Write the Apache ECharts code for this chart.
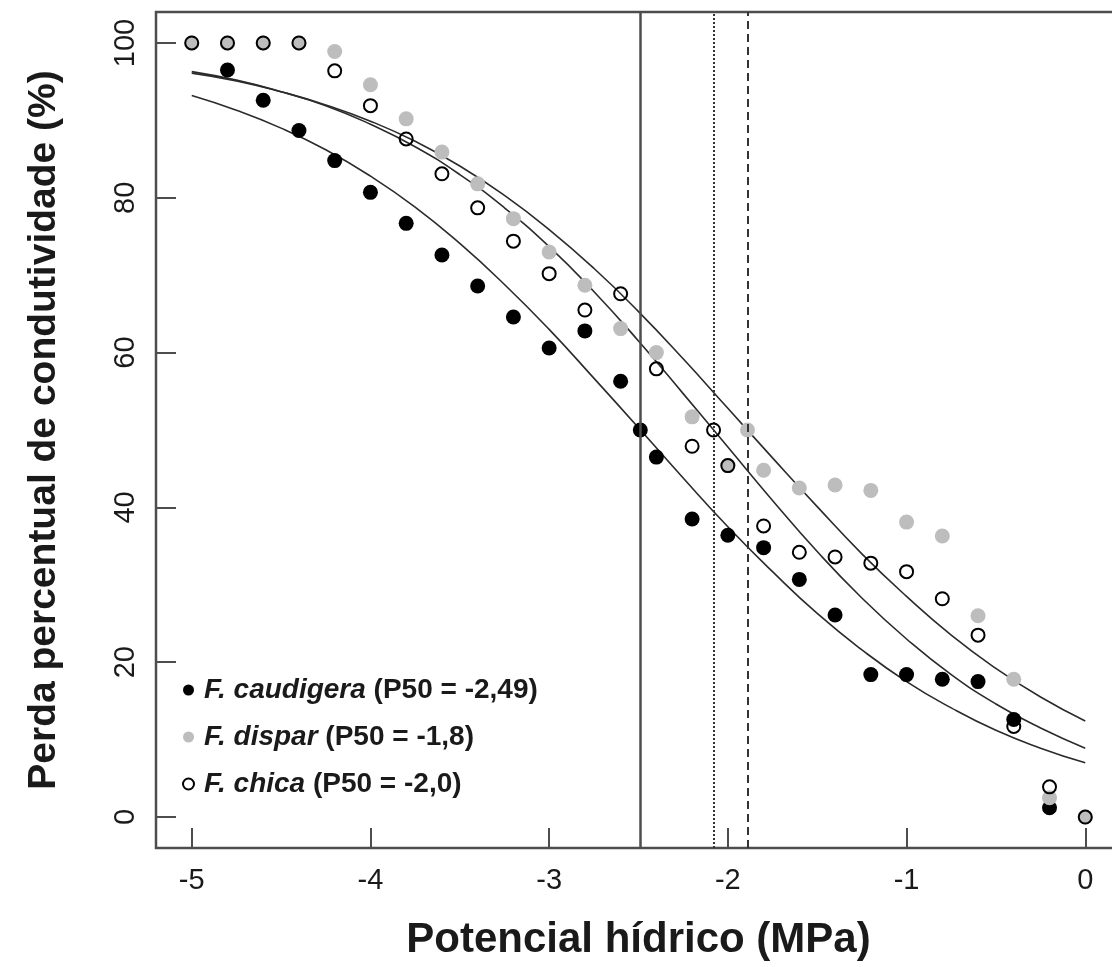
<!DOCTYPE html>
<html>
<head>
<meta charset="utf-8">
<script src="https://cdn.jsdelivr.net/npm/echarts@6/dist/echarts.min.js"></script>
<style>
  html, body { margin: 0; padding: 0; background: #fff; }
  #chart { width: 1112px; height: 967px; }
</style>
</head>
<body>
<div id="chart"></div>
<script>
// ---- Data ----
const speciesNames = ['F. caudigera', 'F. dispar', 'F. chica'];
const p50Labels = ['-2,49', '-1,8', '-2,0'];

const xCaudigera = [-4.8, -4.6, -4.4, -4.2, -4.0, -3.8, -3.6, -3.4, -3.2, -3.0, -2.8, -2.6, -2.49, -2.4, -2.2, -2.0, -1.8, -1.6, -1.4, -1.2, -1.0, -0.8, -0.6, -0.4, -0.2];
const yCaudigera = [96.5, 92.6, 88.7, 84.8, 80.7, 76.7, 72.6, 68.6, 64.6, 60.6, 62.8, 56.3, 50.0, 46.5, 38.5, 36.4, 34.8, 30.7, 26.1, 18.4, 18.4, 17.8, 17.5, 12.6, 1.2];

const xDispar = [-5.0, -4.8, -4.6, -4.4, -4.2, -4.0, -3.8, -3.6, -3.4, -3.2, -3.0, -2.8, -2.6, -2.4, -2.2, -2.0, -1.89, -1.8, -1.6, -1.4, -1.2, -1.0, -0.8, -0.6, -0.4, -0.2, 0.0];
const yDispar = [100, 100, 100, 100, 98.9, 94.6, 90.2, 85.9, 81.8, 77.3, 73.0, 68.7, 63.1, 60.0, 51.7, 45.4, 50.0, 44.8, 42.5, 42.9, 42.2, 38.1, 36.3, 26.0, 17.8, 2.5, 0.0];

const xChica = [-5.0, -4.8, -4.6, -4.4, -4.2, -4.0, -3.8, -3.6, -3.4, -3.2, -3.0, -2.8, -2.6, -2.4, -2.2, -2.08, -2.0, -1.8, -1.6, -1.4, -1.2, -1.0, -0.8, -0.6, -0.4, -0.2, 0.0];
const yChica = [100, 100, 100, 100, 96.4, 91.9, 87.6, 83.1, 78.7, 74.4, 70.2, 65.5, 67.6, 57.9, 47.9, 50.0, 45.4, 37.6, 34.2, 33.6, 32.8, 31.7, 28.2, 23.5, 11.7, 3.9, 0.0];

// fitted curves, values
const curveX = [-5.0, -4.75, -4.5, -4.25, -4.0, -3.75, -3.5, -3.25, -3.0, -2.75, -2.5, -2.25, -2.0, -1.75, -1.5, -1.25, -1.0, -0.75, -0.5, -0.25, 0.0];
const curveCaudigera = [93.2, 91.3, 89.0, 86.2, 82.8, 78.8, 74.1, 68.8, 63.0, 56.7, 50.3, 43.8, 37.5, 31.7, 26.3, 21.6, 17.5, 14.1, 11.2, 8.9, 7.0];
const curveDispar = [96.1, 95.1, 93.7, 92.0, 89.9, 87.3, 84.1, 80.3, 75.9, 70.9, 65.3, 59.2, 52.8, 46.4, 40.1, 34.0, 28.5, 23.5, 19.2, 15.5, 12.4];
const curveChica = [96.3, 95.2, 93.7, 91.9, 89.5, 86.6, 83.0, 78.7, 73.7, 67.9, 61.5, 54.7, 47.8, 40.9, 34.3, 28.3, 23.0, 18.4, 14.6, 11.5, 8.9];

const p50Lines = [-2.49, -2.08, -1.89];
const xTicks = [-5, -4, -3, -2, -1, 0];
const yTicks = [0, 20, 40, 60, 80, 100];

// ---- Build ----
const zip = (xs, ys) => xs.map((x, i) => [x, ys[i]]);
const FONT = "'Liberation Sans', Arial, Helvetica, sans-serif";
const INK = '#1a1a1a';
const FRAME = '#4d4d4d';

const chart = echarts.init(document.getElementById('chart'), null, { renderer: 'canvas' });

const curveStyle = { color: '#2b2b2b', width: 1.6 };

const option = {
  backgroundColor: '#ffffff',
  animation: false,
  grid: {
    left: 156, top: 12, width: 965, height: 836,
    outerBoundsMode: 'none', containLabel: false,
    show: true, borderColor: FRAME, borderWidth: 2.5, backgroundColor: 'transparent'
  },
  xAxis: {
    type: 'value', min: -5.2, max: 0.2,
    axisLine: { show: false, onZero: false },
    splitLine: { show: false },
    axisTick: { show: true, inside: true, length: 20, customValues: xTicks, lineStyle: { color: FRAME, width: 2 } },
    axisLabel: { customValues: xTicks, fontSize: 29, color: INK, fontFamily: FONT, margin: 18 },
    name: 'Potencial hídrico (MPa)', nameLocation: 'middle', nameGap: 71,
    nameTextStyle: { fontSize: 42, fontWeight: 'bold', color: INK, fontFamily: FONT }
  },
  yAxis: {
    type: 'value', min: -4, max: 104,
    axisLine: { show: false, onZero: false },
    splitLine: { show: false },
    axisTick: { show: true, inside: true, length: 20, customValues: yTicks, lineStyle: { color: FRAME, width: 2 } },
    axisLabel: { customValues: yTicks, fontSize: 29, color: INK, fontFamily: FONT, margin: 16, rotate: 90 },
    name: 'Perda percentual de condutividade (%)', nameLocation: 'middle', nameGap: 92,
    nameTextStyle: { fontSize: 39, fontWeight: 'bold', color: INK, fontFamily: FONT }
  },
  legend: {
    orient: 'vertical', left: 177, top: 669,
    itemWidth: 11, itemHeight: 11, itemGap: 15,
    icon: 'circle',
    data: speciesNames,
    formatter: function (name) {
      const i = speciesNames.indexOf(name);
      return '{sp|' + name + '}{p| (P50 = ' + p50Labels[i] + ')}';
    },
    textStyle: {
      fontFamily: FONT, color: INK, fontSize: 28, lineHeight: 32,
      rich: {
        sp: { fontStyle: 'italic', fontWeight: 'bold', fontSize: 28, fontFamily: FONT, color: INK, padding: [0, 0, 0, 5] },
        p: { fontWeight: 'bold', fontSize: 28, fontFamily: FONT, color: INK }
      }
    }
  },
  series: [
    {
      name: 'curve-caudigera', type: 'line', data: zip(curveX, curveCaudigera),
      smooth: true, showSymbol: false, silent: true, lineStyle: curveStyle, z: 2,
      markLine: {
        silent: true, symbol: ['none', 'none'], label: { show: false },
        data: [
          { xAxis: p50Lines[0], lineStyle: { type: 'solid', color: '#4d4d4d', width: 2.5 } },
          { xAxis: p50Lines[1], lineStyle: { type: [2, 2], color: '#333', width: 2 } },
          { xAxis: p50Lines[2], lineStyle: { type: [8, 5], color: '#333', width: 2 } }
        ]
      }
    },
    { name: 'curve-dispar', type: 'line', data: zip(curveX, curveDispar), smooth: true, showSymbol: false, silent: true, lineStyle: curveStyle, z: 2 },
    { name: 'curve-chica', type: 'line', data: zip(curveX, curveChica), smooth: true, showSymbol: false, silent: true, lineStyle: curveStyle, z: 2 },
    {
      name: speciesNames[0], type: 'scatter', data: zip(xCaudigera, yCaudigera),
      symbol: 'circle', symbolSize: 15, itemStyle: { color: '#000000', opacity: 1 }, z: 3
    },
    {
      name: speciesNames[1], type: 'scatter', data: zip(xDispar, yDispar),
      symbol: 'circle', symbolSize: 15, itemStyle: { color: '#bdbdbd', opacity: 1 }, z: 4
    },
    {
      name: speciesNames[2], type: 'scatter', data: zip(xChica, yChica),
      symbol: 'circle', symbolSize: 13,
      itemStyle: { color: 'rgba(255,255,255,0)', borderColor: '#000000', borderWidth: 2, opacity: 1 }, z: 5
    }
  ]
};

chart.setOption(option);
</script>
</body>
</html>
